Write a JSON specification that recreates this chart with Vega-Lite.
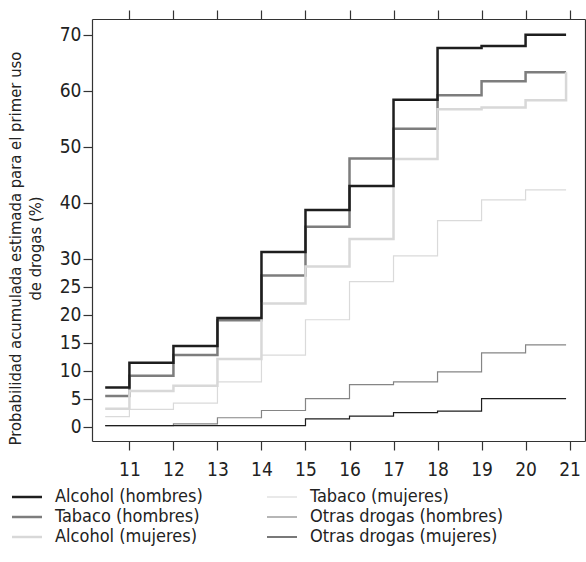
{
  "$schema": "https://vega.github.io/schema/vega-lite/v6.json",
  "width": 493,
  "height": 422,
  "autosize": {"type": "none"},
  "padding": {"left": 92, "top": 19, "right": 1, "bottom": 121},
  "config": {
    "view": {"stroke": null},
    "font": "DejaVu Sans Condensed, sans-serif",
    "axis": {
      "grid": false,
      "domainColor": "#333",
      "tickColor": "#333",
      "domainWidth": 1.2,
      "tickWidth": 1.2,
      "tickSize": 9,
      "labelColor": "#222",
      "labelFontSize": 19,
      "labelFont": "DejaVu Sans Condensed, sans-serif",
      "titleFont": "DejaVu Sans Condensed, sans-serif",
      "titleFontWeight": "normal",
      "titleColor": "#222"
    },
    "legend": {
      "labelFont": "DejaVu Sans Condensed, sans-serif"
    }
  },
  "data": {
    "values": [
      {"s": "Alcohol (hombres)", "age": 10.45, "p": 7.0},
      {"s": "Alcohol (hombres)", "age": 11, "p": 11.4},
      {"s": "Alcohol (hombres)", "age": 12, "p": 14.4},
      {"s": "Alcohol (hombres)", "age": 13, "p": 19.4},
      {"s": "Alcohol (hombres)", "age": 14, "p": 31.2},
      {"s": "Alcohol (hombres)", "age": 15, "p": 38.7},
      {"s": "Alcohol (hombres)", "age": 16, "p": 43.0},
      {"s": "Alcohol (hombres)", "age": 17, "p": 58.4},
      {"s": "Alcohol (hombres)", "age": 18, "p": 67.6},
      {"s": "Alcohol (hombres)", "age": 19, "p": 68.0},
      {"s": "Alcohol (hombres)", "age": 20, "p": 70.0},
      {"s": "Alcohol (hombres)", "age": 20.92, "p": 70.0},
      {"s": "Tabaco (hombres)", "age": 10.45, "p": 5.5},
      {"s": "Tabaco (hombres)", "age": 11, "p": 9.1},
      {"s": "Tabaco (hombres)", "age": 12, "p": 12.8},
      {"s": "Tabaco (hombres)", "age": 13, "p": 19.0},
      {"s": "Tabaco (hombres)", "age": 14, "p": 27.0},
      {"s": "Tabaco (hombres)", "age": 15, "p": 35.7},
      {"s": "Tabaco (hombres)", "age": 16, "p": 47.9},
      {"s": "Tabaco (hombres)", "age": 17, "p": 53.2},
      {"s": "Tabaco (hombres)", "age": 18, "p": 59.2},
      {"s": "Tabaco (hombres)", "age": 19, "p": 61.7},
      {"s": "Tabaco (hombres)", "age": 20, "p": 63.3},
      {"s": "Tabaco (hombres)", "age": 20.92, "p": 63.3},
      {"s": "Alcohol (mujeres)", "age": 10.45, "p": 3.2},
      {"s": "Alcohol (mujeres)", "age": 11, "p": 6.4},
      {"s": "Alcohol (mujeres)", "age": 12, "p": 7.3},
      {"s": "Alcohol (mujeres)", "age": 13, "p": 12.1},
      {"s": "Alcohol (mujeres)", "age": 14, "p": 22.0},
      {"s": "Alcohol (mujeres)", "age": 15, "p": 28.6},
      {"s": "Alcohol (mujeres)", "age": 16, "p": 33.5},
      {"s": "Alcohol (mujeres)", "age": 17, "p": 47.8},
      {"s": "Alcohol (mujeres)", "age": 18, "p": 56.7},
      {"s": "Alcohol (mujeres)", "age": 19, "p": 57.0},
      {"s": "Alcohol (mujeres)", "age": 20, "p": 58.3},
      {"s": "Alcohol (mujeres)", "age": 20.92, "p": 63.3},
      {"s": "Tabaco (mujeres)", "age": 10.45, "p": 1.8},
      {"s": "Tabaco (mujeres)", "age": 11, "p": 3.1},
      {"s": "Tabaco (mujeres)", "age": 12, "p": 4.2},
      {"s": "Tabaco (mujeres)", "age": 13, "p": 8.0},
      {"s": "Tabaco (mujeres)", "age": 14, "p": 12.8},
      {"s": "Tabaco (mujeres)", "age": 15, "p": 19.1},
      {"s": "Tabaco (mujeres)", "age": 16, "p": 25.9},
      {"s": "Tabaco (mujeres)", "age": 17, "p": 30.5},
      {"s": "Tabaco (mujeres)", "age": 18, "p": 36.8},
      {"s": "Tabaco (mujeres)", "age": 19, "p": 40.5},
      {"s": "Tabaco (mujeres)", "age": 20, "p": 42.3},
      {"s": "Tabaco (mujeres)", "age": 20.92, "p": 42.3},
      {"s": "Otras drogas (hombres)", "age": 10.45, "p": 0.2},
      {"s": "Otras drogas (hombres)", "age": 11, "p": 0.2},
      {"s": "Otras drogas (hombres)", "age": 12, "p": 0.5},
      {"s": "Otras drogas (hombres)", "age": 13, "p": 1.6},
      {"s": "Otras drogas (hombres)", "age": 14, "p": 2.9},
      {"s": "Otras drogas (hombres)", "age": 15, "p": 5.0},
      {"s": "Otras drogas (hombres)", "age": 16, "p": 7.5},
      {"s": "Otras drogas (hombres)", "age": 17, "p": 8.0},
      {"s": "Otras drogas (hombres)", "age": 18, "p": 9.8},
      {"s": "Otras drogas (hombres)", "age": 19, "p": 13.2},
      {"s": "Otras drogas (hombres)", "age": 20, "p": 14.6},
      {"s": "Otras drogas (hombres)", "age": 20.92, "p": 14.6},
      {"s": "Otras drogas (mujeres)", "age": 10.45, "p": 0.2},
      {"s": "Otras drogas (mujeres)", "age": 11, "p": 0.2},
      {"s": "Otras drogas (mujeres)", "age": 12, "p": 0.2},
      {"s": "Otras drogas (mujeres)", "age": 13, "p": 0.2},
      {"s": "Otras drogas (mujeres)", "age": 14, "p": 0.2},
      {"s": "Otras drogas (mujeres)", "age": 15, "p": 1.4},
      {"s": "Otras drogas (mujeres)", "age": 16, "p": 1.9},
      {"s": "Otras drogas (mujeres)", "age": 17, "p": 2.5},
      {"s": "Otras drogas (mujeres)", "age": 18, "p": 2.8},
      {"s": "Otras drogas (mujeres)", "age": 19, "p": 5.0},
      {"s": "Otras drogas (mujeres)", "age": 20, "p": 5.0},
      {"s": "Otras drogas (mujeres)", "age": 20.92, "p": 5.0}
    ]
  },
  "layer": [
    {
      "transform": [{"filter": "datum.s === 'Tabaco (mujeres)' || datum.s === 'Otras drogas (hombres)' || datum.s === 'Otras drogas (mujeres)'"}],
      "mark": {"type": "line", "interpolate": "step-after", "strokeWidth": 1.2},
      "encoding": {
        "x": {"field": "age", "type": "quantitative", "scale": {"domain": [10.15, 21.35], "nice": false, "zero": false},
              "axis": {"orient": "top", "values": [11,12,13,14,15,16,17,18,19,20,21], "labels": false, "title": null}},
        "y": {"field": "p", "type": "quantitative", "scale": {"domain": [-2.55, 72.8], "nice": false, "zero": false},
              "axis": {"orient": "right", "values": [0,5,10,15,20,25,30,40,50,60,70], "labels": false, "title": null}},
        "color": {"field": "s", "type": "nominal",
          "scale": {"domain": ["Alcohol (hombres)", "Tabaco (hombres)", "Alcohol (mujeres)", "Tabaco (mujeres)", "Otras drogas (hombres)", "Otras drogas (mujeres)"],
                    "range": ["#1e1e1e", "#7d7d7d", "#d8d8d8", "#dadada", "#858585", "#1e1e1e"]},
          "legend": {"orient": "none", "legendX": -74, "legendY": 469, "columns": 2, "title": null,
            "symbolType": "stroke", "symbolSize": 900, "labelFontSize": 18, "labelColor": "#222", "labelOffset": 19,
            "columnPadding": 61, "rowPadding": 2, "labelLimit": 300,
            "encode": {"symbols": {"update": {"strokeWidth": {"signal": "indexof(['Alcohol (hombres)','Tabaco (hombres)','Alcohol (mujeres)'], datum.value) >= 0 ? 2.5 : 1.2"}}}}}
        }
      }
    },
    {
      "transform": [{"filter": "datum.s === 'Alcohol (mujeres)' || datum.s === 'Tabaco (hombres)'"}],
      "mark": {"type": "line", "interpolate": "step-after", "strokeWidth": 2.5},
      "encoding": {
        "x": {"field": "age", "type": "quantitative", "scale": {"domain": [10.15, 21.35], "nice": false, "zero": false},
              "axis": {"orient": "bottom", "values": [11,12,13,14,15,16,17,18,19,20,21], "labelPadding": 10, "labelBaseline": "top", "title": null}},
        "y": {"field": "p", "type": "quantitative", "scale": {"domain": [-2.55, 72.8], "nice": false, "zero": false},
              "axis": {"orient": "left", "values": [0,5,10,15,20,25,30,40,50,60,70], "labelPadding": 2,
                       "title": ["Probabilidad acumulada estimada para el primer uso", "de drogas (%)"],
                       "titleFontSize": 16.5, "titleLineHeight": 20, "titleAngle": -90, "titleBaseline": "top",
                       "titleAlign": "center", "titleX": -85, "titleY": 229}},
        "color": {"field": "s", "type": "nominal",
          "scale": {"domain": ["Alcohol (hombres)", "Tabaco (hombres)", "Alcohol (mujeres)", "Tabaco (mujeres)", "Otras drogas (hombres)", "Otras drogas (mujeres)"],
                    "range": ["#1e1e1e", "#7d7d7d", "#d8d8d8", "#dadada", "#858585", "#1e1e1e"]}}
      }
    },
    {
      "transform": [{"filter": "datum.s === 'Alcohol (hombres)'"}],
      "mark": {"type": "line", "interpolate": "step-after", "strokeWidth": 2.5},
      "encoding": {
        "x": {"field": "age", "type": "quantitative", "scale": {"domain": [10.15, 21.35], "nice": false, "zero": false}, "axis": null},
        "y": {"field": "p", "type": "quantitative", "scale": {"domain": [-2.55, 72.8], "nice": false, "zero": false}, "axis": null},
        "color": {"field": "s", "type": "nominal",
          "scale": {"domain": ["Alcohol (hombres)", "Tabaco (hombres)", "Alcohol (mujeres)", "Tabaco (mujeres)", "Otras drogas (hombres)", "Otras drogas (mujeres)"],
                    "range": ["#1e1e1e", "#7d7d7d", "#d8d8d8", "#dadada", "#858585", "#1e1e1e"]}}
      }
    }
  ],
  "resolve": {"axis": {"x": "independent", "y": "independent"}}
}
